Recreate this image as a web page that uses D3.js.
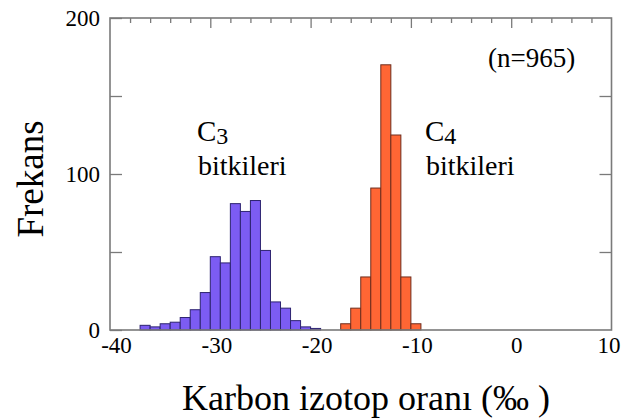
<!DOCTYPE html>
<html>
<head>
<meta charset="utf-8">
<script src="https://cdn.jsdelivr.net/npm/d3@7"></script>
<style>
  html, body { margin: 0; padding: 0; background: #fff; }
  svg { display: block; }
  text { font-family: "Liberation Serif", "Times New Roman", serif; fill: #000; }
</style>
</head>
<body>
<svg id="chart" width="632" height="418"></svg>
<script>
// ---- data ----
const c3BinStarts = [-37,-36,-35,-34,-33,-32,-31,-30,-29,-28,-27,-26,-25,-24,-23,-22,-21,-20];
const c3Counts    = [3, 2, 4, 5, 8, 13, 24, 47, 43, 81, 76, 83, 51, 18, 14, 6, 2, 1];
const c4BinStarts = [-17,-16,-15,-14,-13,-12,-11,-10];
const c4Counts    = [4, 14, 34, 91, 170, 125, 34, 4];
const binWidth = 1;
const xTickValues = [-40, -30, -20, -10, 0, 10];
const yTickValues = [0, 50, 100, 150, 200];
const yLabelValues = [0, 100, 200];
const xTitle = "Karbon izotop oranı (‰ )";
const yTitle = "Frekans";
const nLabel = "(n=965)";

const svg = d3.select("#chart");
const L = 110, R = 611.5, T = 18, B = 330;
const x = d3.scaleLinear().domain([-40, 10]).range([L, R]);
const y = d3.scaleLinear().domain([0, 200]).range([B, T]);

// bars
function drawBars(starts, counts, fill, stroke) {
  const data = starts.map((s, i) => ({ x0: s, x1: s + binWidth, v: counts[i] }));
  svg.append("g").selectAll("rect").data(data).join("rect")
    .attr("x", d => x(d.x0))
    .attr("width", d => x(d.x1) - x(d.x0))
    .attr("y", d => y(d.v))
    .attr("height", d => y(0) - y(d.v))
    .attr("fill", fill)
    .attr("stroke", stroke)
    .attr("stroke-width", 1);
}
drawBars(c3BinStarts, c3Counts, "#7c5cf3", "#2d2370");
drawBars(c4BinStarts, c4Counts, "#ff6634", "#6e2c1c");

const axisColor = "#7a7a7a";
function styleAxis(g) {
  g.select(".domain").remove();
  g.selectAll(".tick line").attr("stroke", axisColor).attr("stroke-width", 1.3);
  g.selectAll(".tick text").attr("fill", "#000")
    .style("font-family", '"Liberation Serif", "Times New Roman", serif');
}

// left axis
svg.append("g").attr("transform", `translate(${L},0)`)
  .call(d3.axisLeft(y).tickValues(yTickValues).tickSize(-12).tickPadding(10)
    .tickFormat(d => yLabelValues.includes(d) ? String(d) : ""))
  .call(styleAxis)
  .call(g => g.selectAll(".tick text").style("font-size", "23px"));

// right axis
svg.append("g").attr("transform", `translate(${R},0)`)
  .call(d3.axisRight(y).tickValues([50, 100, 150]).tickSize(-12).tickFormat(""))
  .call(styleAxis);

// top axis minor + major
svg.append("g").attr("transform", `translate(0,${T})`)
  .call(d3.axisTop(x).tickValues(d3.range(-40, 11, 2).filter(v => v % 10 !== 0)).tickSize(-5).tickFormat(""))
  .call(styleAxis);
svg.append("g").attr("transform", `translate(0,${T})`)
  .call(d3.axisTop(x).tickValues([-30, -20, -10, 0]).tickSize(-10).tickFormat(""))
  .call(styleAxis);

// bottom axis labels
const xLabelDx = { "-40": 6, "-30": 6, "-20": 6, "-10": 6, "0": 5, "10": -3 };
svg.append("g").attr("transform", `translate(0,${B})`)
  .call(d3.axisBottom(x).tickValues(xTickValues).tickSize(0).tickPadding(7).tickFormat(d => String(d)))
  .call(styleAxis)
  .call(g => g.selectAll(".tick text").style("font-size", "23px")
    .attr("dx", d => xLabelDx[String(d)]));

// frame
svg.append("rect")
  .attr("x", L).attr("y", T).attr("width", R - L).attr("height", B - T)
  .attr("fill", "none").attr("stroke", axisColor).attr("stroke-width", 1.6);

// titles
svg.append("text")
  .attr("transform", `translate(43,179) rotate(-90)`)
  .attr("text-anchor", "middle")
  .style("font-size", "37px")
  .text(yTitle);

svg.append("text")
  .attr("x", 366).attr("y", 410)
  .attr("text-anchor", "middle")
  .style("font-size", "36px")
  .text(xTitle);

// annotations
svg.append("text").attr("x", 488).attr("y", 67).style("font-size", "27px").text(nLabel);

function plantLabel(x0, sub) {
  const t = svg.append("text").attr("x", x0).attr("y", 141).style("font-size", "29px");
  t.append("tspan").text("C");
  t.append("tspan").attr("dy", 3).style("font-size", "24px").text(sub);
  svg.append("text").attr("x", x0 + 1).attr("y", 175).style("font-size", "28px").text("bitkileri");
}
plantLabel(197, "3");
plantLabel(425, "4");
</script>
</body>
</html>
